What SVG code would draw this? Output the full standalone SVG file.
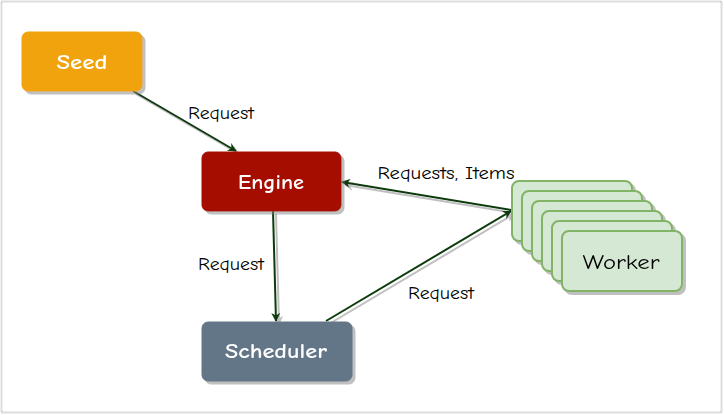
<svg xmlns="http://www.w3.org/2000/svg" width="724" height="415" viewBox="0 0 724 415">
<style>
.node text{font-family:"Comic Neue","DejaVu Sans","Noto Sans",sans-serif;font-size:21px;font-weight:bold;fill:#fff;text-anchor:middle;dominant-baseline:central}
.lbl{font-family:"Comic Neue","DejaVu Sans","Noto Sans",sans-serif;font-size:17px;fill:#000;text-anchor:middle;dominant-baseline:central}
.edge{stroke:#0b3b0b;stroke-width:2;fill:none;marker-end:url(#arr)}
.w{fill:#d5e8d4;stroke:#82b366;stroke-width:2}
</style>
<defs>
<filter id="sh" x="-10%" y="-10%" width="130%" height="140%">
<feOffset in="SourceAlpha" dx="3" dy="3" result="o"/>
<feFlood flood-color="#808080" flood-opacity="0.5"/>
<feComposite in2="o" operator="in" result="s"/>
<feMerge><feMergeNode in="s"/><feMergeNode in="SourceGraphic"/></feMerge>
</filter>
<marker id="arr" viewBox="0 0 10 10" refX="9" refY="5" markerWidth="9" markerHeight="9" orient="auto" markerUnits="userSpaceOnUse">
<path d="M0,0 L10,5 L0,10 L3,5 Z" fill="#0b3b0b"/>
</marker>
</defs>
<rect x="1.5" y="1.5" width="720" height="411" fill="#fff" stroke="#bbb" stroke-width="2" stroke-dasharray="1 1"/>
<g id="connectors" filter="url(#sh)">
<path class="edge" d="M133,91 L236,151"/>
<path class="edge" d="M273,211 L276,321"/>
<path class="edge" d="M511,210 L342,182"/>
<path class="edge" d="M326,321 L511,211"/>
</g>
<g id="labels">
<text class="lbl" x="221" y="113" textLength="66" lengthAdjust="spacingAndGlyphs">Request</text>
<text class="lbl" x="446" y="173" textLength="137" lengthAdjust="spacingAndGlyphs">Requests, Items</text>
<text class="lbl" x="231" y="264" textLength="66" lengthAdjust="spacingAndGlyphs">Request</text>
<text class="lbl" x="441" y="293" textLength="66" lengthAdjust="spacingAndGlyphs">Request</text>
</g>
<g id="seed" class="node" filter="url(#sh)">
<rect x="22" y="32" width="120" height="59" rx="6" fill="#f0a30a" stroke="#f0a30a"/>
<text x="82" y="62" textLength="51" lengthAdjust="spacingAndGlyphs">Seed</text>
</g>
<g id="engine" class="node" filter="url(#sh)">
<rect x="202" y="152" width="139" height="59" rx="6" fill="#a41000" stroke="#a41000"/>
<text x="271" y="182" textLength="66" lengthAdjust="spacingAndGlyphs">Engine</text>
</g>
<g id="scheduler" class="node" filter="url(#sh)">
<rect x="202" y="322" width="150" height="59" rx="6" fill="#647687" stroke="#647687"/>
<text x="276" y="351" textLength="102" lengthAdjust="spacingAndGlyphs">Scheduler</text>
</g>
<g id="worker" class="node" filter="url(#sh)">
<rect class="w" x="512" y="181" width="120" height="60" rx="7"/>
<rect class="w" x="522" y="191" width="120" height="60" rx="7"/>
<rect class="w" x="532" y="201" width="120" height="60" rx="7"/>
<rect class="w" x="542" y="211" width="120" height="60" rx="7"/>
<rect class="w" x="552" y="221" width="120" height="60" rx="7"/>
<rect class="w" x="562" y="231" width="120" height="60" rx="7"/>
<text x="621" y="262" textLength="77" lengthAdjust="spacingAndGlyphs" style="fill:#000;font-weight:normal">Worker</text>
</g>
</svg>
